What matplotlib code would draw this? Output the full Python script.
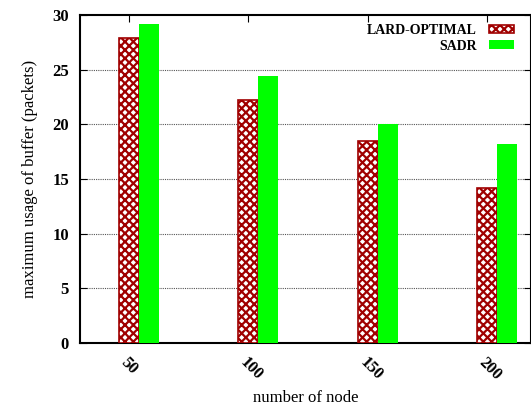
import numpy as np
import matplotlib.pyplot as plt

# data
nodes = ["50", "100", "150", "200"]
lard_optimal = [27.9, 22.2, 18.5, 14.2]
sadr = [29.2, 24.4, 20.0, 18.2]

plt.rcParams['font.family'] = ['Liberation Serif', 'DejaVu Serif']
plt.rcParams['hatch.linewidth'] = 1.6

fig = plt.figure(figsize=(5.31, 4.07), dpi=100)
ax = fig.add_axes([80/531, 64/407, 451/531, 328/407])

x = np.arange(len(nodes))
w = 0.168
ax.bar(x, lard_optimal, w, color='white', edgecolor='#a00000', hatch='xxxx',
       linewidth=1.2, label='LARD-OPTIMAL', zorder=3)
ax.bar(x + w, sadr, w, color='#00ff00', edgecolor='none', label='SADR', zorder=3)

ax.set_xlim(-0.412, 3.37)
ax.set_ylim(0, 30)
ax.set_yticks(range(0, 31, 5))
ax.set_xticks(x)
ax.set_xticklabels(nodes, rotation=-45, ha='left', va='top',
                   rotation_mode='anchor', fontsize=12, fontweight='bold')
for lbl in ax.get_yticklabels():
    lbl.set_fontsize(12)
    lbl.set_fontweight('bold')

# gnuplot style ticks: inward, mirrored
ax.tick_params(axis='y', direction='in', length=5, right=True, pad=8)
ax.tick_params(axis='x', direction='in', length=5, top=True, bottom=False, pad=8)

for y in range(5, 30, 5):
    ax.axhline(y, color='#555555', linestyle=(0, (1, 1)), linewidth=0.8, zorder=1)

for s in ax.spines.values():
    s.set_linewidth(1.5)

ax.set_xlabel('number of node', fontsize=12, va='center')
ax.xaxis.set_label_coords(0.5, -0.167)
ax.set_ylabel('maximum usage of buffer (packets)', fontsize=12, labelpad=10)

ax.legend(loc='upper right', frameon=False, markerfirst=False,
          prop={'size': 10, 'weight': 'bold'}, handlelength=1.8, handleheight=0.6,
          handletextpad=0.9, borderaxespad=0.0, labelspacing=0.2,
          bbox_to_anchor=(0.975, 0.99))

fig.savefig('out.png', dpi=100)
